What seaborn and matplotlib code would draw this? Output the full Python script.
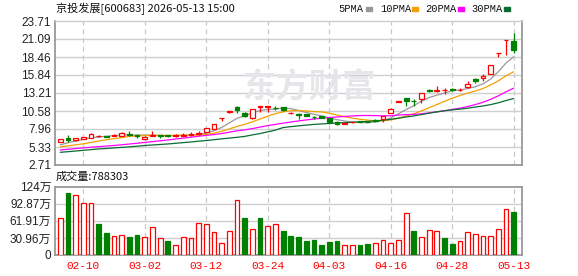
import numpy as np
import pandas as pd
import seaborn as sns
import matplotlib.pyplot as plt
from matplotlib.patches import Rectangle

# daily candles, 60 sessions
opens = [6.05, 6.65, 6.3, 6.55, 6.7, 6.9, 6.95, 6.95, 7.0, 7.3,
         7.1, 6.45, 7.0, 7.1, 7.1, 6.95, 7.0, 7.1, 7.2, 7.45,
         8.0, 9.5, 10.45, 11.1, 10.28, 9.5, 11.2, 11.2, 11.05, 11.15,
         10.3, 10.1, 10.15, 9.75, 9.8, 9.5, 9.05, 8.75, 8.95, 9.1,
         9.05, 9.2, 9.35, 10.3, 11.9, 12.46, 12.05, 12.35, 13.6, 13.45,
         13.6, 13.75, 13.6, 14.06, 15.25, 15.37, 16.0, 19.0, 20.9, 20.85]
highs = [6.55, 7.1, 6.7, 6.85, 7.35, 7.1, 7.0, 7.2, 7.5, 7.6,
         7.15, 6.9, 7.6, 7.15, 7.15, 7.2, 7.35, 7.45, 7.65, 8.15,
         8.75, 9.57, 10.53, 11.25, 10.47, 10.9, 11.3, 11.3, 11.25, 11.2,
         10.38, 10.28, 10.2, 9.9, 9.82, 9.52, 9.1, 8.92, 9.05, 9.12,
         9.1, 9.35, 9.9, 10.95, 11.99, 12.5, 12.4, 13.2, 13.8, 14.26,
         13.92, 13.92, 13.92, 15.03, 15.4, 16.0, 17.35, 19.03, 20.93, 22.0]
lows = [6.0, 6.1, 6.25, 6.45, 6.65, 6.75, 6.8, 6.9, 6.95, 7.0,
        6.7, 6.4, 6.95, 6.7, 6.85, 6.85, 6.9, 7.0, 7.15, 7.4,
        7.95, 9.07, 10.35, 10.3, 9.7, 9.45, 10.5, 10.5, 10.8, 10.6,
        10.1, 9.45, 9.8, 9.4, 9.5, 8.75, 8.55, 8.7, 8.9, 8.95,
        8.95, 8.95, 9.0, 10.25, 11.83, 11.35, 11.35, 11.8, 13.35, 13.4,
        13.05, 13.55, 13.43, 13.9, 14.6, 14.9, 15.95, 18.43, 18.7, 19.0]
closes = [6.5, 6.3, 6.65, 6.8, 7.25, 6.95, 6.85, 7.1, 7.4, 7.1,
          6.95, 6.85, 7.05, 7.0, 7.0, 7.05, 7.15, 7.2, 7.35, 8.1,
          8.7, 9.57, 10.53, 10.7, 9.9, 10.85, 11.3, 11.3, 11.0, 10.7,
          10.35, 10.0, 9.82, 9.68, 9.52, 8.97, 8.62, 8.85, 9.0, 9.0,
          9.0, 9.15, 9.85, 10.9, 11.99, 12.1, 11.98, 13.15, 13.55, 13.65,
          13.65, 13.7, 13.7, 14.55, 15.0, 15.71, 17.3, 19.03, 20.93, 19.5]

ma5 = [5.65, 5.95, 6.2, 6.45, 6.70, 6.79, 6.90, 6.99, 7.11, 7.08,
       7.08, 7.08, 7.07, 6.99, 6.97, 6.99, 7.05, 7.08, 7.15, 7.37,
       7.70, 8.18, 8.85, 9.52, 9.88, 10.31, 10.66, 10.81, 10.87, 11.03,
       10.93, 10.67, 10.37, 10.11, 9.87, 9.60, 9.32, 9.13, 8.99, 8.89,
       8.89, 9.00, 9.20, 9.58, 10.18, 10.80, 11.36, 12.02, 12.55, 12.89,
       13.20, 13.54, 13.65, 13.85, 14.12, 14.53, 15.25, 16.32, 17.59, 18.49]
ma10 = [5.35, 5.5, 5.65, 5.8, 6.0, 6.2, 6.4, 6.55, 6.7, 6.89,
        6.94, 6.99, 7.03, 7.05, 7.03, 7.04, 7.07, 7.08, 7.07, 7.17,
        7.35, 7.62, 7.97, 8.34, 8.63, 9.01, 9.42, 9.83, 10.20, 10.46,
        10.62, 10.66, 10.59, 10.49, 10.45, 10.26, 10.00, 9.75, 9.55, 9.38,
        9.25, 9.16, 9.16, 9.29, 9.53, 9.85, 10.18, 10.61, 11.07, 11.53,
        12.00, 12.45, 12.84, 13.20, 13.50, 13.86, 14.40, 14.98, 15.72, 16.31]
ma20 = [4.9, 5.0, 5.1, 5.2, 5.3, 5.38, 5.47, 5.56, 5.66, 5.77,
        5.88, 6.0, 6.12, 6.24, 6.36, 6.5, 6.63, 6.76, 6.9, 7.03,
        7.14, 7.30, 7.50, 7.69, 7.83, 8.02, 8.24, 8.45, 8.63, 8.81,
        8.98, 9.14, 9.28, 9.41, 9.54, 9.63, 9.71, 9.79, 9.87, 9.92,
        9.93, 9.91, 9.88, 9.89, 9.99, 10.06, 10.09, 10.18, 10.31, 10.46,
        10.62, 10.81, 11.00, 11.24, 11.52, 11.86, 12.29, 12.80, 13.39, 13.92]
ma30 = [4.56, 4.65, 4.75, 4.85, 4.95, 5.05, 5.12, 5.2, 5.28, 5.36,
        5.45, 5.55, 5.63, 5.7, 5.78, 5.87, 5.97, 6.07, 6.18, 6.28,
        6.4, 6.52, 6.63, 6.75, 6.88, 7.1, 7.3, 7.55, 7.8, 8.17,
        8.30, 8.42, 8.53, 8.63, 8.70, 8.77, 8.83, 8.89, 8.94, 9.00,
        9.07, 9.15, 9.24, 9.37, 9.54, 9.71, 9.87, 10.06, 10.27, 10.46,
        10.62, 10.76, 10.86, 10.99, 11.16, 11.32, 11.52, 11.78, 12.11, 12.41]

# volume in 万 shares, 1 = up day (red), 0 = down day (green)
volume = [66.7, 113, 109, 94, 94, 57, 39, 35, 37, 32,
          37, 33, 51, 31, 25, 19, 33, 31, 58, 56,
          42, 22, 44, 100, 67, 47, 67, 53, 56, 44,
          35, 32, 25, 28, 18, 23, 25, 19, 19, 18,
          19.5, 22, 28, 22, 26.5, 76, 44, 33, 45, 44,
          30, 19.5, 25, 42.5, 38, 35, 34, 47, 84, 78.83]
vol_up = [1, 0, 1, 1, 1, 0, 0, 1, 1, 0,
          0, 1, 1, 1, 0, 1, 1, 1, 1, 1,
          1, 1, 1, 1, 0, 1, 0, 1, 1, 0,
          0, 0, 0, 0, 0, 0, 0, 1, 1, 0,
          0, 1, 1, 1, 1, 1, 0, 1, 1, 1,
          0, 0, 1, 1, 1, 1, 1, 1, 1, 0]

tick_idx = [3, 11, 19, 27, 35, 43, 51, 59]
tick_labels = ['02-10', '03-02', '03-12', '03-24', '04-03', '04-16', '04-28', '05-13']
price_ticks = [2.71, 5.33, 7.96, 10.58, 13.21, 15.84, 18.46, 21.09, 23.71]
vol_ticks = [0, 30.96, 61.91, 92.87, 123.83]
vol_tick_labels = ['0', '30.96万', '61.91万', '92.87万', '124万']
ma_names = ['5PMA', '10PMA', '20PMA', '30PMA']

RED = '#ff0000'
GREEN = '#008000'
ma_colors = {'5PMA': '#999999', '10PMA': '#f5a000', '20PMA': '#ff00ff', '30PMA': '#0b6b34'}

sns.set_style('white')
plt.rcParams['font.family'] = ['Liberation Sans', 'Noto Sans CJK SC', 'DejaVu Sans']

fig = plt.figure(figsize=(5.78, 2.76), dpi=100)
ax = fig.add_axes([0.0957, 0.4022, 0.808, 0.5217])
axv = fig.add_axes([0.0957, 0.0761, 0.808, 0.2475])

x = np.arange(len(closes))
o = np.array(opens)
c = np.array(closes)
h = np.array(highs)
l = np.array(lows)
up = c >= o
bw = 0.62

# watermark
fig.text(0.535, 1 - 88 / 276, '东方财富', ha='center', va='center', fontsize=24,
         fontweight='bold', color='#e6e6ea', family=['Noto Sans CJK SC'], zorder=0)

# moving averages
ma_df = pd.DataFrame({
    'idx': np.tile(x, 4),
    'value': ma5 + ma10 + ma20 + ma30,
    'ma': sum([[n] * len(x) for n in ma_names], []),
})
sns.lineplot(data=ma_df, x='idx', y='value', hue='ma', palette=ma_colors,
             ax=ax, legend=False, lw=0.9, zorder=2)

# candles
ax.vlines(x[up], np.maximum(o, c)[up], h[up], color=RED, lw=0.9, zorder=3)
ax.vlines(x[up], l[up], np.minimum(o, c)[up], color=RED, lw=0.9, zorder=3)
ax.bar(x[up], (c - o)[up], bottom=o[up], width=bw, facecolor='white',
       edgecolor=RED, lw=0.9, zorder=4)
ax.vlines(x[~up], l[~up], h[~up], color=GREEN, lw=0.9, zorder=3)
ax.bar(x[~up], (o - c)[~up], bottom=c[~up], width=bw, color=GREEN,
       edgecolor=GREEN, lw=0.9, zorder=4)

# volume
sns.barplot(x=x, y=volume, native_scale=True, width=bw, errorbar=None, ax=axv, zorder=3)
for p, u in zip(axv.patches, vol_up):
    p.set_facecolor('white' if u else GREEN)
    p.set_edgecolor(RED if u else GREEN)
    p.set_linewidth(0.9)

for a in (ax, axv):
    a.set_xlim(-0.64, 60.12)
    a.set_xlabel('')
    a.set_ylabel('')
    for t in tick_idx:
        a.axvline(t, color='#c8c8c8', lw=0.9, ls=(0, (4, 3)), zorder=1)
    for s in a.spines.values():
        s.set_color('#999999')
        s.set_linewidth(1.3)
    a.tick_params(length=0, labelsize=8.5, colors='#222222', pad=3)

ax.set_ylim(2.71, 23.71)
ax.set_yticks(price_ticks)
ax.set_yticklabels([f'{v:.2f}' for v in price_ticks])
ax.set_xticks([])
ax.spines['top'].set_color('#cccccc')
ax.spines['top'].set_linewidth(1)
for v in price_ticks[1:-1]:
    ax.axhline(v, color='#cfcfcf', lw=1, zorder=1)

axv.set_ylim(0, 123.83)
axv.set_yticks(vol_ticks)
axv.set_yticklabels(vol_tick_labels)
axv.set_xticks(tick_idx)
axv.set_xticklabels(tick_labels, color=RED, fontsize=8, family=['Liberation Mono'])
axv.tick_params(axis='x', pad=4)
for v in vol_ticks[1:-1]:
    axv.axhline(v, color='#cfcfcf', lw=1, zorder=1)

# header texts
cjk = ['Noto Sans CJK SC', 'DejaVu Sans']
fig.text(56 / 578, 1 - 9 / 276, '京投发展[600683] 2026-05-13 15:00', ha='left', va='center',
         fontsize=8, family=cjk, color='#111111')
fig.text(56 / 578, 1 - 177 / 276, '成交量:788303', ha='left', va='center',
         fontsize=8, family=cjk, color='#111111')

leg_pos = [(338, 366), (380, 412), (425, 458), (471, 504)]
for name, (tx, sx) in zip(ma_names, leg_pos):
    fig.text(tx / 578, 1 - 9 / 276, name, ha='left', va='center', fontsize=7.5,
             family=['Liberation Mono'], color='#111111')
    fig.add_artist(Rectangle((sx / 578, 1 - 11 / 276), 6 / 578, 4 / 276,
                             transform=fig.transFigure, color=ma_colors[name]))

fig.savefig('out.png', dpi=100)
